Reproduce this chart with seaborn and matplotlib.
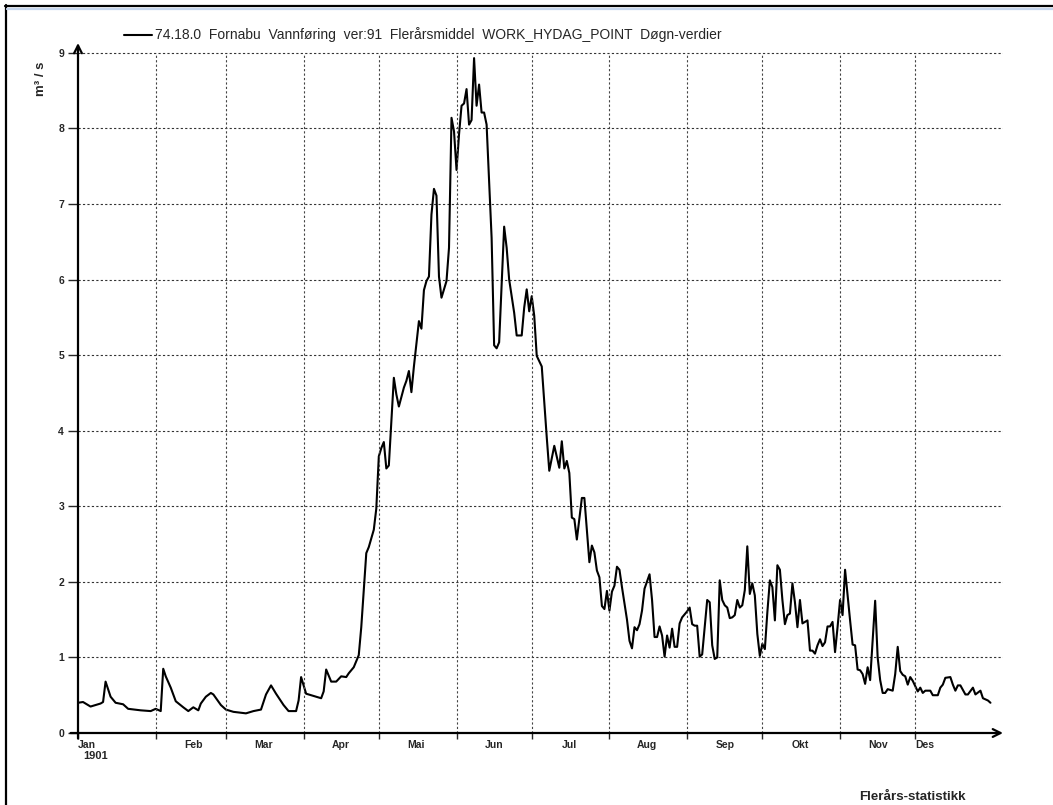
import numpy as np
import pandas as pd
import matplotlib
matplotlib.use('Agg')
import matplotlib.pyplot as plt
import matplotlib.dates as mdates
from matplotlib.lines import Line2D
import seaborn as sns

sns.set_style('white')
plt.rcParams['font.family'] = ['Liberation Sans', 'DejaVu Sans']

# dag i året (0 = 1. jan) og vannføring m3/s, lest av figuren
days = [0, 2, 5, 7, 9, 10, 11, 13, 15, 18, 20, 25, 29, 31, 33, 34, 35, 37, 39, 42,
        44, 46, 48, 49, 51, 53, 54, 57, 59, 62, 67, 70, 73, 75, 77, 79, 82, 84, 87, 88,
        89, 91, 94, 97, 98, 99, 101, 103, 105, 107, 108, 110, 112, 113, 115, 116, 118, 119, 120, 121,
        122, 123, 124, 126, 127, 128, 130, 131, 132, 133, 134, 136, 137, 138, 139, 140, 141, 142, 143, 144,
        145, 147, 148, 149, 150, 151, 152, 153, 154, 155, 156, 157, 158, 159, 160, 161, 162, 163, 165, 166,
        167, 168, 170, 171, 172, 174, 175, 177, 178, 179, 180, 181, 182, 183, 185, 187, 188, 190, 192, 193,
        194, 195, 196, 197, 198, 199, 201, 202, 204, 205, 206, 207, 208, 209, 210, 211, 212, 213, 214, 215,
        216, 217, 219, 220, 221, 222, 223, 224, 225, 226, 228, 229, 230, 231, 232, 233, 234, 235, 236, 237,
        238, 239, 240, 241, 243, 244, 245, 246, 247, 248, 249, 251, 252, 253, 254, 255, 256, 257, 258, 259,
        260, 261, 262, 263, 264, 265, 266, 267, 268, 269, 270, 271, 272, 273, 274, 275, 276, 277, 278, 279,
        280, 281, 282, 283, 284, 285, 286, 287, 288, 289, 291, 292, 293, 294, 295, 296, 297, 298, 299, 300,
        301, 302, 303, 304, 305, 306, 307, 308, 309, 310, 311, 312, 313, 314, 315, 316, 317, 318, 319, 320,
        321, 322, 323, 325, 326, 327, 328, 329, 330, 331, 332, 333, 335, 336, 337, 338, 340, 341, 343, 344,
        345, 346, 348, 349, 350, 351, 352, 354, 355, 357, 358, 360, 361, 363, 364]
flow = [0.40, 0.41, 0.35, 0.37, 0.39, 0.41, 0.68, 0.48, 0.40, 0.38, 0.32, 0.30, 0.29, 0.32, 0.29, 0.85, 0.75, 0.60, 0.42, 0.34,
        0.29, 0.34, 0.30, 0.39, 0.48, 0.53, 0.51, 0.37, 0.31, 0.28, 0.26, 0.29, 0.31, 0.51, 0.63, 0.52, 0.37, 0.29, 0.29, 0.43,
        0.74, 0.52, 0.49, 0.46, 0.55, 0.84, 0.68, 0.68, 0.75, 0.74, 0.79, 0.87, 1.03, 1.40, 2.38, 2.46, 2.69, 2.97, 3.66, 3.77,
        3.85, 3.50, 3.54, 4.70, 4.48, 4.32, 4.57, 4.66, 4.79, 4.51, 4.85, 5.45, 5.35, 5.86, 5.98, 6.04, 6.86, 7.20, 7.11, 6.04,
        5.76, 5.98, 6.42, 8.14, 7.96, 7.45, 7.92, 8.30, 8.33, 8.52, 8.05, 8.11, 8.93, 8.30, 8.58, 8.21, 8.21, 8.05, 6.55, 5.13,
        5.09, 5.17, 6.70, 6.42, 6.00, 5.56, 5.26, 5.26, 5.63, 5.87, 5.58, 5.78, 5.52, 4.99, 4.85, 3.91, 3.47, 3.80, 3.51, 3.86,
        3.50, 3.60, 3.44, 2.85, 2.83, 2.56, 3.11, 3.11, 2.26, 2.48, 2.39, 2.15, 2.06, 1.68, 1.64, 1.88, 1.62, 1.87, 1.95, 2.20,
        2.16, 1.93, 1.50, 1.22, 1.12, 1.40, 1.36, 1.44, 1.62, 1.91, 2.10, 1.76, 1.27, 1.27, 1.41, 1.29, 1.01, 1.29, 1.13, 1.38,
        1.14, 1.14, 1.45, 1.53, 1.61, 1.66, 1.44, 1.42, 1.42, 1.01, 1.04, 1.76, 1.73, 1.16, 0.98, 1.00, 2.02, 1.76, 1.69, 1.66,
        1.52, 1.53, 1.56, 1.76, 1.66, 1.69, 1.89, 2.47, 1.84, 1.98, 1.82, 1.31, 1.02, 1.18, 1.11, 1.60, 2.02, 1.93, 1.49, 2.22,
        2.16, 1.76, 1.44, 1.56, 1.58, 1.98, 1.73, 1.40, 1.76, 1.45, 1.49, 1.09, 1.09, 1.05, 1.16, 1.24, 1.15, 1.20, 1.41, 1.41,
        1.47, 1.07, 1.40, 1.76, 1.56, 2.16, 1.82, 1.49, 1.17, 1.16, 0.84, 0.83, 0.78, 0.65, 0.87, 0.70, 1.22, 1.75, 1.00, 0.70,
        0.53, 0.53, 0.58, 0.56, 0.78, 1.14, 0.82, 0.77, 0.75, 0.64, 0.74, 0.69, 0.55, 0.60, 0.53, 0.56, 0.56, 0.50, 0.50, 0.60,
        0.64, 0.73, 0.74, 0.64, 0.56, 0.63, 0.63, 0.51, 0.51, 0.60, 0.51, 0.56, 0.46, 0.43, 0.40]

months = ['Jan', 'Feb', 'Mar', 'Apr', 'Mai', 'Jun', 'Jul', 'Aug', 'Sep', 'Okt', 'Nov', 'Des']
yticks = list(range(10))
title = '74.18.0  Fornabu  Vannføring  ver:91  Flerårsmiddel  WORK_HYDAG_POINT  Døgn-verdier'

start = pd.Timestamp('1901-01-01')
df = pd.DataFrame({'dato': start + pd.to_timedelta(days, unit='D'), 'q': flow})
month_starts = pd.date_range('1901-01-01', periods=12, freq='MS')
month_mid = month_starts + pd.Timedelta(days=15)

W, H = 1053, 805
fig = plt.figure(figsize=(W / 100, H / 100), dpi=100)
ax = fig.add_axes([78 / W, 72 / H, (1003 - 78) / W, (762 - 72) / H])

sns.lineplot(data=df, x='dato', y='q', color='black', lw=1.5, ax=ax, label=title)

ax.set_xlim(mdates.date2num(start), mdates.date2num(start + pd.Timedelta(days=369)))
ax.set_ylim(0, 9.13)
ax.set_xlabel('')
ax.set_ylabel('')
for s in ax.spines.values():
    s.set_visible(False)

# gitter
ax.set_yticks(yticks)
ax.set_yticklabels([str(v) for v in yticks], fontweight='bold', fontsize=7.5)
ax.yaxis.grid(True, ls=(0, (2, 2)), color='#333333', lw=0.8)
ax.vlines(mdates.date2num(month_starts[1:]), 0, 9, colors='#444444', lw=0.8, linestyles=(0, (2, 2)))

ax.set_xticks(mdates.date2num(month_starts))
ax.set_xticklabels(['Jan'] + [''] * 10 + ['Des'], fontweight='bold', fontsize=7.5, ha='left')
ax.set_xticks(mdates.date2num(month_mid[1:11]), minor=True)
ax.set_xticklabels(months[1:11], minor=True, fontweight='bold', fontsize=7.5)
ax.tick_params(axis='x', which='major', direction='out', length=4, width=1, pad=1, bottom=True)
ax.tick_params(axis='x', which='minor', length=0, pad=5, bottom=True)
ax.tick_params(axis='y', direction='out', length=7, width=1, pad=3, left=True)

# akser med piler
ap = dict(arrowstyle='->', lw=1.6, color='black', shrinkA=0, shrinkB=0, mutation_scale=14)
ax.annotate('', xy=(1, 0), xytext=(-0.008, 0), xycoords='axes fraction', arrowprops=ap, annotation_clip=False)
ax.annotate('', xy=(0, 1), xytext=(0, -0.008), xycoords='axes fraction', arrowprops=ap, annotation_clip=False)

ax.legend(loc='center left', bbox_to_anchor=(124 / W, 1 - 35 / H), bbox_transform=fig.transFigure,
          frameon=False, handlelength=2.0, handletextpad=0.25, borderaxespad=0, borderpad=0, fontsize=10)

fig.text(41 / W, 1 - 79 / H, 'm³ / s', rotation=90, fontweight='bold', fontsize=9.5, ha='center', va='center')
fig.text(83 / W, 1 - 756 / H, '1901', fontweight='bold', fontsize=8, ha='left', va='center')
fig.text(859 / W, 1 - 797 / H, 'Flerårs-statistikk', fontweight='bold', fontsize=9.6, ha='left', va='center')

# vindusramme
fig.add_artist(Line2D([6 / W, 6 / W], [0, 1 - 5 / H], transform=fig.transFigure, color='black', lw=1.6))
fig.add_artist(Line2D([5 / W, 1], [1 - 6 / H, 1 - 6 / H], transform=fig.transFigure, color='black', lw=1.6))
fig.add_artist(Line2D([7 / W, 1], [1 - 9.5 / H, 1 - 9.5 / H], transform=fig.transFigure, color='#c6d6ee', lw=1.6))

plt.savefig('out.png', dpi=100)
